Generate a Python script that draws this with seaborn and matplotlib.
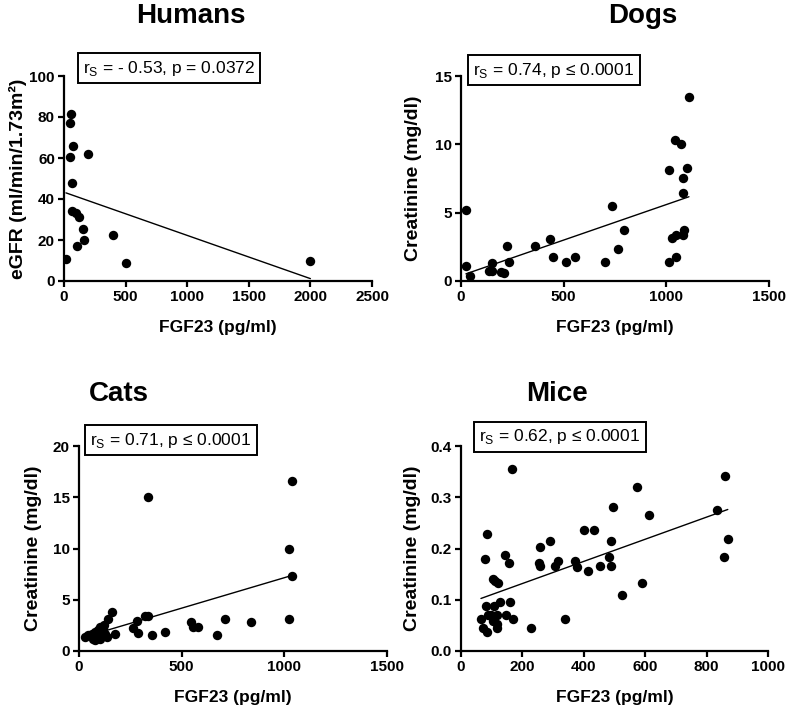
import numpy as np
import pandas as pd
import matplotlib
matplotlib.use('Agg')
import matplotlib.pyplot as plt
import seaborn as sns
from matplotlib.ticker import FormatStrFormatter

# humans
hum_fgf23 = [16, 45, 50, 54, 65, 65, 75, 95, 103, 124, 151, 162, 194, 399, 507, 2000]
hum_egfr = [10.6, 60.3, 77.2, 81.5, 48, 34, 66, 33, 17.2, 31.4, 25.2, 19.8, 62, 22.3, 8.6, 9.6]

# dogs
dog_fgf23 = [24, 24, 45, 138, 149, 153, 195, 209, 226, 235, 362, 433, 450, 510, 555, 700,
             735, 766, 792, 1015, 1015, 1026, 1042, 1047, 1047, 1070, 1080, 1080, 1080,
             1088, 1099, 1110]
dog_crea = [5.2, 1.07, 0.37, 0.76, 1.32, 0.76, 0.66, 0.56, 2.57, 1.37, 2.57, 3.05, 1.76, 1.37,
            1.76, 1.37, 5.47, 2.37, 3.76, 8.11, 1.37, 3.18, 10.3, 1.76, 3.4, 10.0, 7.57, 6.47,
            3.4, 3.76, 8.28, 13.5]

# cats
cat_fgf23 = [29, 45, 62, 70, 78, 78, 86, 90, 94, 95, 102, 102, 110, 115, 118, 120, 126, 135,
             141, 159, 176, 264, 284, 289, 321, 337, 334, 354, 419, 546, 556, 579, 671, 710,
             839, 1035, 1025, 1035, 1025]
cat_crea = [1.38, 1.55, 1.7, 1.2, 1.9, 1.05, 1.55, 1.3, 2.04, 1.7, 2.37, 1.2, 1.9, 1.6, 2.2,
            2.5, 1.7, 1.38, 3.1, 3.85, 1.7, 2.2, 2.9, 1.8, 3.4, 3.4, 15.0, 1.6, 1.9, 2.8, 2.3,
            2.3, 1.6, 3.1, 2.8, 16.6, 10.0, 7.3, 3.1]

# mice
mice_fgf23 = [65, 73, 80, 86, 88, 99, 105, 107, 116, 116, 116, 127, 148, 159, 171, 227, 338,
              77, 86, 105, 112, 120, 142, 156, 166, 255, 256, 258, 289, 305, 316, 371, 379,
              401, 413, 433, 452, 483, 489, 489, 496, 523, 574, 590, 612, 833, 857, 860, 869]
mice_crea = [0.062, 0.044, 0.088, 0.037, 0.071, 0.071, 0.058, 0.088, 0.071, 0.052, 0.044,
             0.096, 0.071, 0.096, 0.062, 0.044, 0.062, 0.18, 0.228, 0.14, 0.136, 0.132, 0.188,
             0.171, 0.355, 0.171, 0.202, 0.166, 0.215, 0.166, 0.176, 0.176, 0.164, 0.237,
             0.157, 0.237, 0.166, 0.183, 0.215, 0.166, 0.281, 0.110, 0.320, 0.132, 0.266,
             0.275, 0.184, 0.342, 0.218]

sns.set_style('ticks')
plt.rcParams['font.family'] = ['Liberation Sans', 'DejaVu Sans']
plt.rcParams['axes.linewidth'] = 1.6
plt.rcParams['xtick.major.width'] = 1.6
plt.rcParams['ytick.major.width'] = 1.6
plt.rcParams['xtick.major.size'] = 4.5
plt.rcParams['ytick.major.size'] = 4.5
plt.rcParams['xtick.major.pad'] = 2
plt.rcParams['ytick.major.pad'] = 2
plt.rcParams['xtick.color'] = 'black'
plt.rcParams['ytick.color'] = 'black'
plt.rcParams['axes.edgecolor'] = 'black'
plt.rcParams['axes.labelcolor'] = 'black'
plt.rcParams['text.color'] = 'black'

W, H = 787, 708
fig = plt.figure(figsize=(W / 100, H / 100), dpi=100)


def px_axes(l, r, t, b):
    return fig.add_axes([l / W, 1 - b / H, (r - l) / W, (b - t) / H])


panels = [
    # name, x, y, ylabel, xlim, xticks, ylim, yticks, stat text, axes px, title xy, box xy, ylabel x
    ('Humans', hum_fgf23, hum_egfr, 'eGFR (ml/min/1.73m\u00b2)', 2500, np.arange(0, 2501, 500),
     100, np.arange(0, 101, 20), 'r$_\\mathregular{S}$ = - 0.53, p = 0.0372',
     (64, 372, 76, 281), (191, 23), (169, 68), -0.149),
    ('Dogs', dog_fgf23, dog_crea, 'Creatinine (mg/dl)', 1500, np.arange(0, 1501, 500),
     15, np.arange(0, 16, 5), 'r$_\\mathregular{S}$ = 0.74, p \u2264 0.0001',
     (461, 769, 76, 281), (643, 23), (554, 70), -0.155),
    ('Cats', cat_fgf23, cat_crea, 'Creatinine (mg/dl)', 1500, np.arange(0, 1501, 500),
     20, np.arange(0, 21, 5), 'r$_\\mathregular{S}$ = 0.71, p \u2264 0.0001',
     (79, 387, 446, 651), (119, 401), (171, 440), -0.149),
    ('Mice', mice_fgf23, mice_crea, 'Creatinine (mg/dl)', 1000, np.arange(0, 1001, 200),
     0.4, np.arange(0, 0.41, 0.1), 'r$_\\mathregular{S}$ = 0.62, p \u2264 0.0001',
     (461, 768, 446, 651), (557, 401), (560, 437), -0.158),
]

for (name, xs, ys, ylab, xmax, xt, ymax, yt, stat, box, txy, bxy, ylx) in panels:
    ax = px_axes(*box)
    df = pd.DataFrame({'FGF23': xs, 'val': ys})
    sns.regplot(data=df, x='FGF23', y='val', ax=ax, ci=None, color='black',
                scatter_kws={'s': 46, 'linewidths': 0, 'alpha': 1, 'zorder': 3},
                line_kws={'lw': 1.0, 'zorder': 2})
    ax.set_xlim(0, xmax)
    ax.set_ylim(0, ymax)
    ax.set_xticks(xt)
    ax.set_yticks(yt)
    if name == 'Mice':
        ax.yaxis.set_major_formatter(FormatStrFormatter('%.1f'))
    sns.despine(ax=ax)
    for lab in ax.get_xticklabels() + ax.get_yticklabels():
        lab.set_fontweight('bold')
        lab.set_fontsize(11)
        lab.set_color('black')
    ax.set_xlabel('FGF23 (pg/ml)', fontsize=12.5, fontweight='bold', va='center')
    ax.set_ylabel(ylab, fontsize=14, fontweight='bold', va='center')
    ax.xaxis.set_label_coords(0.5, -0.229)
    ax.yaxis.set_label_coords(ylx, 0.5)
    fig.text(txy[0] / W, 1 - txy[1] / H, name, fontsize=20, fontweight='bold',
             ha='center', va='baseline', color='black')
    fig.text(bxy[0] / W, 1 - bxy[1] / H, stat, fontsize=12.5, ha='center', va='center',
             color='black',
             bbox=dict(boxstyle='square,pad=0.3', fc='white', ec='black', lw=1.4),
             zorder=10)

fig.savefig('out.png', dpi=100)
